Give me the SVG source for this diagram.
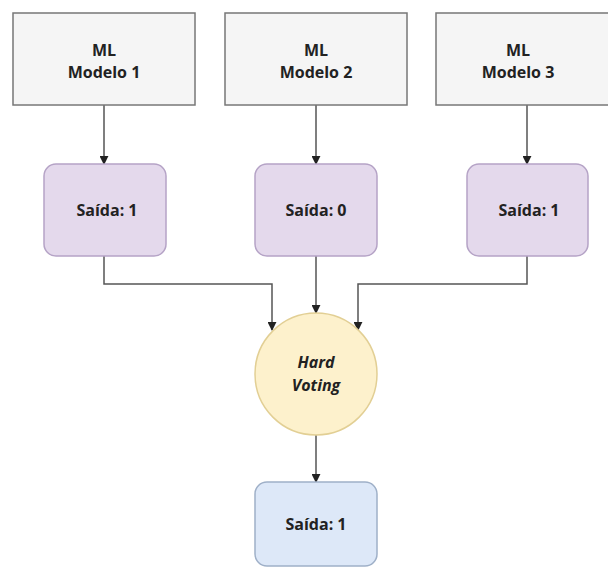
<svg xmlns="http://www.w3.org/2000/svg" width="608" height="568" viewBox="0 0 608 568">
<defs>
<marker id="arr" viewBox="0 0 10 10" refX="9" refY="5" markerWidth="9" markerHeight="9" markerUnits="userSpaceOnUse" orient="auto">
<path d="M0,0 L10,5 L0,10 Z" fill="#222"/>
</marker>
<style>
.model{fill:#f5f5f5;stroke:#777;stroke-width:1.5}
.out{fill:#e4d9ec;stroke:#b5a3c6;stroke-width:1.5}
.vote{fill:#fdf1cc;stroke:#e2cf94;stroke-width:1.5}
.final{fill:#dde8f8;stroke:#9fb0c8;stroke-width:1.5}
.t{font-family:"Open Sans","Noto Sans",sans-serif;font-weight:bold;font-size:16px;fill:#222;text-anchor:middle}
.it{font-style:italic}
.c{fill:none;stroke:#555;stroke-width:1.5;marker-end:url(#arr)}
</style>
</defs>
<rect width="608" height="568" fill="#ffffff"/>
<g id="connectors">
<path class="c" d="M104,105 V164"/>
<path class="c" d="M316,105 V164"/>
<path class="c" d="M527,105 V164"/>
<path class="c" d="M104,256 V284 H272 V330"/>
<path class="c" d="M316,256 V313"/>
<path class="c" d="M527,256 V284 H358 V330"/>
<path class="c" d="M316,435 V482"/>
</g>
<g id="modelo1">
<rect class="model" x="13" y="13" width="182" height="92"/>
<text class="t" x="104" y="56">ML</text>
<text class="t" x="104" y="78">Modelo 1</text>
</g>
<g id="modelo2">
<rect class="model" x="225" y="13" width="182" height="92"/>
<text class="t" x="316" y="56">ML</text>
<text class="t" x="316" y="78">Modelo 2</text>
</g>
<g id="modelo3">
<rect class="model" x="436" y="13" width="182" height="92"/>
<text class="t" x="518" y="56">ML</text>
<text class="t" x="518" y="78">Modelo 3</text>
</g>
<g id="saida1">
<rect class="out" x="44" y="164" width="122" height="92" rx="12"/>
<text class="t" x="107" y="216">Saída: 1</text>
</g>
<g id="saida2">
<rect class="out" x="255" y="164" width="122" height="92" rx="12"/>
<text class="t" x="316" y="216">Saída: 0</text>
</g>
<g id="saida3">
<rect class="out" x="467" y="164" width="121" height="92" rx="12"/>
<text class="t" x="529" y="216">Saída: 1</text>
</g>
<g id="hardvoting">
<circle class="vote" cx="316" cy="374" r="61"/>
<text class="t it" x="316" y="368">Hard</text>
<text class="t it" x="316" y="391">Voting</text>
</g>
<g id="saidafinal">
<rect class="final" x="255" y="482" width="122" height="84" rx="12"/>
<text class="t" x="316" y="530">Saída: 1</text>
</g>
</svg>
